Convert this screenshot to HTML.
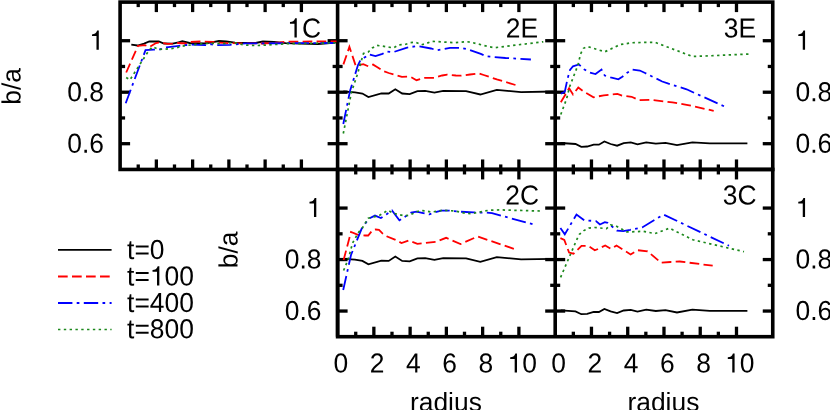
<!DOCTYPE html>
<html><head><meta charset="utf-8"><title>b/a vs radius</title>
<style>
html,body{margin:0;padding:0;background:#fff;}
body{width:830px;height:410px;overflow:hidden;}
svg{display:block;}
text{font-family:"Liberation Sans",sans-serif;font-size:26.4px;fill:#000;text-rendering:geometricPrecision;}
</style></head>
<body>
<svg width="830" height="410" viewBox="0 0 830 410">
<rect x="0" y="0" width="830" height="410" fill="#fff"/>
<g id="axes" shape-rendering="auto">
<g fill="none" stroke="#000" stroke-width="3.6" stroke-linejoin="miter">
<rect x="120.1" y="2.1" width="652.65" height="167.35"/>
<rect x="337.6" y="169.45" width="435.15" height="167.25"/>
</g>
<line x1="337.60" y1="2.10" x2="337.60" y2="336.70" stroke="#000" stroke-width="3.6" />
<line x1="555.20" y1="2.10" x2="555.20" y2="336.70" stroke="#000" stroke-width="3.6" />
<line x1="138.23" y1="169.45" x2="138.23" y2="164.45" stroke="#000" stroke-width="3.3" />
<line x1="138.23" y1="2.10" x2="138.23" y2="7.10" stroke="#000" stroke-width="3.3" />
<line x1="156.36" y1="169.45" x2="156.36" y2="159.45" stroke="#000" stroke-width="3.3" />
<line x1="156.36" y1="2.10" x2="156.36" y2="12.10" stroke="#000" stroke-width="3.3" />
<line x1="174.49" y1="169.45" x2="174.49" y2="164.45" stroke="#000" stroke-width="3.3" />
<line x1="174.49" y1="2.10" x2="174.49" y2="7.10" stroke="#000" stroke-width="3.3" />
<line x1="192.62" y1="169.45" x2="192.62" y2="159.45" stroke="#000" stroke-width="3.3" />
<line x1="192.62" y1="2.10" x2="192.62" y2="12.10" stroke="#000" stroke-width="3.3" />
<line x1="210.75" y1="169.45" x2="210.75" y2="164.45" stroke="#000" stroke-width="3.3" />
<line x1="210.75" y1="2.10" x2="210.75" y2="7.10" stroke="#000" stroke-width="3.3" />
<line x1="228.88" y1="169.45" x2="228.88" y2="159.45" stroke="#000" stroke-width="3.3" />
<line x1="228.88" y1="2.10" x2="228.88" y2="12.10" stroke="#000" stroke-width="3.3" />
<line x1="247.00" y1="169.45" x2="247.00" y2="164.45" stroke="#000" stroke-width="3.3" />
<line x1="247.00" y1="2.10" x2="247.00" y2="7.10" stroke="#000" stroke-width="3.3" />
<line x1="265.13" y1="169.45" x2="265.13" y2="159.45" stroke="#000" stroke-width="3.3" />
<line x1="265.13" y1="2.10" x2="265.13" y2="12.10" stroke="#000" stroke-width="3.3" />
<line x1="283.26" y1="169.45" x2="283.26" y2="164.45" stroke="#000" stroke-width="3.3" />
<line x1="283.26" y1="2.10" x2="283.26" y2="7.10" stroke="#000" stroke-width="3.3" />
<line x1="301.39" y1="169.45" x2="301.39" y2="159.45" stroke="#000" stroke-width="3.3" />
<line x1="301.39" y1="2.10" x2="301.39" y2="12.10" stroke="#000" stroke-width="3.3" />
<line x1="120.10" y1="143.70" x2="130.10" y2="143.70" stroke="#000" stroke-width="3.3" />
<line x1="337.60" y1="143.70" x2="327.60" y2="143.70" stroke="#000" stroke-width="3.3" />
<line x1="120.10" y1="117.96" x2="125.10" y2="117.96" stroke="#000" stroke-width="3.3" />
<line x1="337.60" y1="117.96" x2="332.60" y2="117.96" stroke="#000" stroke-width="3.3" />
<line x1="120.10" y1="92.21" x2="130.10" y2="92.21" stroke="#000" stroke-width="3.3" />
<line x1="337.60" y1="92.21" x2="327.60" y2="92.21" stroke="#000" stroke-width="3.3" />
<line x1="120.10" y1="66.47" x2="125.10" y2="66.47" stroke="#000" stroke-width="3.3" />
<line x1="337.60" y1="66.47" x2="332.60" y2="66.47" stroke="#000" stroke-width="3.3" />
<line x1="120.10" y1="40.72" x2="130.10" y2="40.72" stroke="#000" stroke-width="3.3" />
<line x1="337.60" y1="40.72" x2="327.60" y2="40.72" stroke="#000" stroke-width="3.3" />
<line x1="355.73" y1="169.45" x2="355.73" y2="164.45" stroke="#000" stroke-width="3.3" />
<line x1="355.73" y1="2.10" x2="355.73" y2="7.10" stroke="#000" stroke-width="3.3" />
<line x1="373.86" y1="169.45" x2="373.86" y2="159.45" stroke="#000" stroke-width="3.3" />
<line x1="373.86" y1="2.10" x2="373.86" y2="12.10" stroke="#000" stroke-width="3.3" />
<line x1="391.99" y1="169.45" x2="391.99" y2="164.45" stroke="#000" stroke-width="3.3" />
<line x1="391.99" y1="2.10" x2="391.99" y2="7.10" stroke="#000" stroke-width="3.3" />
<line x1="410.12" y1="169.45" x2="410.12" y2="159.45" stroke="#000" stroke-width="3.3" />
<line x1="410.12" y1="2.10" x2="410.12" y2="12.10" stroke="#000" stroke-width="3.3" />
<line x1="428.25" y1="169.45" x2="428.25" y2="164.45" stroke="#000" stroke-width="3.3" />
<line x1="428.25" y1="2.10" x2="428.25" y2="7.10" stroke="#000" stroke-width="3.3" />
<line x1="446.38" y1="169.45" x2="446.38" y2="159.45" stroke="#000" stroke-width="3.3" />
<line x1="446.38" y1="2.10" x2="446.38" y2="12.10" stroke="#000" stroke-width="3.3" />
<line x1="464.50" y1="169.45" x2="464.50" y2="164.45" stroke="#000" stroke-width="3.3" />
<line x1="464.50" y1="2.10" x2="464.50" y2="7.10" stroke="#000" stroke-width="3.3" />
<line x1="482.63" y1="169.45" x2="482.63" y2="159.45" stroke="#000" stroke-width="3.3" />
<line x1="482.63" y1="2.10" x2="482.63" y2="12.10" stroke="#000" stroke-width="3.3" />
<line x1="500.76" y1="169.45" x2="500.76" y2="164.45" stroke="#000" stroke-width="3.3" />
<line x1="500.76" y1="2.10" x2="500.76" y2="7.10" stroke="#000" stroke-width="3.3" />
<line x1="518.89" y1="169.45" x2="518.89" y2="159.45" stroke="#000" stroke-width="3.3" />
<line x1="518.89" y1="2.10" x2="518.89" y2="12.10" stroke="#000" stroke-width="3.3" />
<line x1="337.60" y1="143.70" x2="347.60" y2="143.70" stroke="#000" stroke-width="3.3" />
<line x1="555.20" y1="143.70" x2="545.20" y2="143.70" stroke="#000" stroke-width="3.3" />
<line x1="337.60" y1="117.96" x2="342.60" y2="117.96" stroke="#000" stroke-width="3.3" />
<line x1="555.20" y1="117.96" x2="550.20" y2="117.96" stroke="#000" stroke-width="3.3" />
<line x1="337.60" y1="92.21" x2="347.60" y2="92.21" stroke="#000" stroke-width="3.3" />
<line x1="555.20" y1="92.21" x2="545.20" y2="92.21" stroke="#000" stroke-width="3.3" />
<line x1="337.60" y1="66.47" x2="342.60" y2="66.47" stroke="#000" stroke-width="3.3" />
<line x1="555.20" y1="66.47" x2="550.20" y2="66.47" stroke="#000" stroke-width="3.3" />
<line x1="337.60" y1="40.72" x2="347.60" y2="40.72" stroke="#000" stroke-width="3.3" />
<line x1="555.20" y1="40.72" x2="545.20" y2="40.72" stroke="#000" stroke-width="3.3" />
<line x1="573.33" y1="169.45" x2="573.33" y2="164.45" stroke="#000" stroke-width="3.3" />
<line x1="573.33" y1="2.10" x2="573.33" y2="7.10" stroke="#000" stroke-width="3.3" />
<line x1="591.46" y1="169.45" x2="591.46" y2="159.45" stroke="#000" stroke-width="3.3" />
<line x1="591.46" y1="2.10" x2="591.46" y2="12.10" stroke="#000" stroke-width="3.3" />
<line x1="609.59" y1="169.45" x2="609.59" y2="164.45" stroke="#000" stroke-width="3.3" />
<line x1="609.59" y1="2.10" x2="609.59" y2="7.10" stroke="#000" stroke-width="3.3" />
<line x1="627.72" y1="169.45" x2="627.72" y2="159.45" stroke="#000" stroke-width="3.3" />
<line x1="627.72" y1="2.10" x2="627.72" y2="12.10" stroke="#000" stroke-width="3.3" />
<line x1="645.85" y1="169.45" x2="645.85" y2="164.45" stroke="#000" stroke-width="3.3" />
<line x1="645.85" y1="2.10" x2="645.85" y2="7.10" stroke="#000" stroke-width="3.3" />
<line x1="663.98" y1="169.45" x2="663.98" y2="159.45" stroke="#000" stroke-width="3.3" />
<line x1="663.98" y1="2.10" x2="663.98" y2="12.10" stroke="#000" stroke-width="3.3" />
<line x1="682.10" y1="169.45" x2="682.10" y2="164.45" stroke="#000" stroke-width="3.3" />
<line x1="682.10" y1="2.10" x2="682.10" y2="7.10" stroke="#000" stroke-width="3.3" />
<line x1="700.23" y1="169.45" x2="700.23" y2="159.45" stroke="#000" stroke-width="3.3" />
<line x1="700.23" y1="2.10" x2="700.23" y2="12.10" stroke="#000" stroke-width="3.3" />
<line x1="718.36" y1="169.45" x2="718.36" y2="164.45" stroke="#000" stroke-width="3.3" />
<line x1="718.36" y1="2.10" x2="718.36" y2="7.10" stroke="#000" stroke-width="3.3" />
<line x1="736.49" y1="169.45" x2="736.49" y2="159.45" stroke="#000" stroke-width="3.3" />
<line x1="736.49" y1="2.10" x2="736.49" y2="12.10" stroke="#000" stroke-width="3.3" />
<line x1="555.20" y1="143.70" x2="565.20" y2="143.70" stroke="#000" stroke-width="3.3" />
<line x1="772.75" y1="143.70" x2="762.75" y2="143.70" stroke="#000" stroke-width="3.3" />
<line x1="555.20" y1="117.96" x2="560.20" y2="117.96" stroke="#000" stroke-width="3.3" />
<line x1="772.75" y1="117.96" x2="767.75" y2="117.96" stroke="#000" stroke-width="3.3" />
<line x1="555.20" y1="92.21" x2="565.20" y2="92.21" stroke="#000" stroke-width="3.3" />
<line x1="772.75" y1="92.21" x2="762.75" y2="92.21" stroke="#000" stroke-width="3.3" />
<line x1="555.20" y1="66.47" x2="560.20" y2="66.47" stroke="#000" stroke-width="3.3" />
<line x1="772.75" y1="66.47" x2="767.75" y2="66.47" stroke="#000" stroke-width="3.3" />
<line x1="555.20" y1="40.72" x2="565.20" y2="40.72" stroke="#000" stroke-width="3.3" />
<line x1="772.75" y1="40.72" x2="762.75" y2="40.72" stroke="#000" stroke-width="3.3" />
<line x1="355.73" y1="336.70" x2="355.73" y2="331.70" stroke="#000" stroke-width="3.3" />
<line x1="355.73" y1="169.45" x2="355.73" y2="174.45" stroke="#000" stroke-width="3.3" />
<line x1="373.86" y1="336.70" x2="373.86" y2="326.70" stroke="#000" stroke-width="3.3" />
<line x1="373.86" y1="169.45" x2="373.86" y2="179.45" stroke="#000" stroke-width="3.3" />
<line x1="391.99" y1="336.70" x2="391.99" y2="331.70" stroke="#000" stroke-width="3.3" />
<line x1="391.99" y1="169.45" x2="391.99" y2="174.45" stroke="#000" stroke-width="3.3" />
<line x1="410.12" y1="336.70" x2="410.12" y2="326.70" stroke="#000" stroke-width="3.3" />
<line x1="410.12" y1="169.45" x2="410.12" y2="179.45" stroke="#000" stroke-width="3.3" />
<line x1="428.25" y1="336.70" x2="428.25" y2="331.70" stroke="#000" stroke-width="3.3" />
<line x1="428.25" y1="169.45" x2="428.25" y2="174.45" stroke="#000" stroke-width="3.3" />
<line x1="446.38" y1="336.70" x2="446.38" y2="326.70" stroke="#000" stroke-width="3.3" />
<line x1="446.38" y1="169.45" x2="446.38" y2="179.45" stroke="#000" stroke-width="3.3" />
<line x1="464.50" y1="336.70" x2="464.50" y2="331.70" stroke="#000" stroke-width="3.3" />
<line x1="464.50" y1="169.45" x2="464.50" y2="174.45" stroke="#000" stroke-width="3.3" />
<line x1="482.63" y1="336.70" x2="482.63" y2="326.70" stroke="#000" stroke-width="3.3" />
<line x1="482.63" y1="169.45" x2="482.63" y2="179.45" stroke="#000" stroke-width="3.3" />
<line x1="500.76" y1="336.70" x2="500.76" y2="331.70" stroke="#000" stroke-width="3.3" />
<line x1="500.76" y1="169.45" x2="500.76" y2="174.45" stroke="#000" stroke-width="3.3" />
<line x1="518.89" y1="336.70" x2="518.89" y2="326.70" stroke="#000" stroke-width="3.3" />
<line x1="518.89" y1="169.45" x2="518.89" y2="179.45" stroke="#000" stroke-width="3.3" />
<line x1="337.60" y1="311.05" x2="347.60" y2="311.05" stroke="#000" stroke-width="3.3" />
<line x1="555.20" y1="311.05" x2="545.20" y2="311.05" stroke="#000" stroke-width="3.3" />
<line x1="337.60" y1="285.31" x2="342.60" y2="285.31" stroke="#000" stroke-width="3.3" />
<line x1="555.20" y1="285.31" x2="550.20" y2="285.31" stroke="#000" stroke-width="3.3" />
<line x1="337.60" y1="259.56" x2="347.60" y2="259.56" stroke="#000" stroke-width="3.3" />
<line x1="555.20" y1="259.56" x2="545.20" y2="259.56" stroke="#000" stroke-width="3.3" />
<line x1="337.60" y1="233.82" x2="342.60" y2="233.82" stroke="#000" stroke-width="3.3" />
<line x1="555.20" y1="233.82" x2="550.20" y2="233.82" stroke="#000" stroke-width="3.3" />
<line x1="337.60" y1="208.07" x2="347.60" y2="208.07" stroke="#000" stroke-width="3.3" />
<line x1="555.20" y1="208.07" x2="545.20" y2="208.07" stroke="#000" stroke-width="3.3" />
<line x1="573.33" y1="336.70" x2="573.33" y2="331.70" stroke="#000" stroke-width="3.3" />
<line x1="573.33" y1="169.45" x2="573.33" y2="174.45" stroke="#000" stroke-width="3.3" />
<line x1="591.46" y1="336.70" x2="591.46" y2="326.70" stroke="#000" stroke-width="3.3" />
<line x1="591.46" y1="169.45" x2="591.46" y2="179.45" stroke="#000" stroke-width="3.3" />
<line x1="609.59" y1="336.70" x2="609.59" y2="331.70" stroke="#000" stroke-width="3.3" />
<line x1="609.59" y1="169.45" x2="609.59" y2="174.45" stroke="#000" stroke-width="3.3" />
<line x1="627.72" y1="336.70" x2="627.72" y2="326.70" stroke="#000" stroke-width="3.3" />
<line x1="627.72" y1="169.45" x2="627.72" y2="179.45" stroke="#000" stroke-width="3.3" />
<line x1="645.85" y1="336.70" x2="645.85" y2="331.70" stroke="#000" stroke-width="3.3" />
<line x1="645.85" y1="169.45" x2="645.85" y2="174.45" stroke="#000" stroke-width="3.3" />
<line x1="663.98" y1="336.70" x2="663.98" y2="326.70" stroke="#000" stroke-width="3.3" />
<line x1="663.98" y1="169.45" x2="663.98" y2="179.45" stroke="#000" stroke-width="3.3" />
<line x1="682.10" y1="336.70" x2="682.10" y2="331.70" stroke="#000" stroke-width="3.3" />
<line x1="682.10" y1="169.45" x2="682.10" y2="174.45" stroke="#000" stroke-width="3.3" />
<line x1="700.23" y1="336.70" x2="700.23" y2="326.70" stroke="#000" stroke-width="3.3" />
<line x1="700.23" y1="169.45" x2="700.23" y2="179.45" stroke="#000" stroke-width="3.3" />
<line x1="718.36" y1="336.70" x2="718.36" y2="331.70" stroke="#000" stroke-width="3.3" />
<line x1="718.36" y1="169.45" x2="718.36" y2="174.45" stroke="#000" stroke-width="3.3" />
<line x1="736.49" y1="336.70" x2="736.49" y2="326.70" stroke="#000" stroke-width="3.3" />
<line x1="736.49" y1="169.45" x2="736.49" y2="179.45" stroke="#000" stroke-width="3.3" />
<line x1="555.20" y1="311.05" x2="565.20" y2="311.05" stroke="#000" stroke-width="3.3" />
<line x1="772.75" y1="311.05" x2="762.75" y2="311.05" stroke="#000" stroke-width="3.3" />
<line x1="555.20" y1="285.31" x2="560.20" y2="285.31" stroke="#000" stroke-width="3.3" />
<line x1="772.75" y1="285.31" x2="767.75" y2="285.31" stroke="#000" stroke-width="3.3" />
<line x1="555.20" y1="259.56" x2="565.20" y2="259.56" stroke="#000" stroke-width="3.3" />
<line x1="772.75" y1="259.56" x2="762.75" y2="259.56" stroke="#000" stroke-width="3.3" />
<line x1="555.20" y1="233.82" x2="560.20" y2="233.82" stroke="#000" stroke-width="3.3" />
<line x1="772.75" y1="233.82" x2="767.75" y2="233.82" stroke="#000" stroke-width="3.3" />
<line x1="555.20" y1="208.07" x2="565.20" y2="208.07" stroke="#000" stroke-width="3.3" />
<line x1="772.75" y1="208.07" x2="762.75" y2="208.07" stroke="#000" stroke-width="3.3" />
</g>
<g id="curves">
<polyline points="131.3,44.7 137.6,45.5 144.1,43.7 149.3,41.5 158.8,41.5 163.9,43.5 172.7,43.7 178.5,42.3 182.3,41.3 189.6,43.0 204.3,43.5 211.6,42.3 218.9,41.0 226.2,41.5 235.0,42.6 241.0,43.0 255.6,43.0 262.9,41.5 273.9,41.9 285.6,43.2 300.0,43.6 318.0,44.0 330.0,43.0 336.5,42.0" fill="none" stroke="#000" stroke-width="1.8" stroke-linejoin="miter" stroke-miterlimit="10"/>
<polyline points="126.2,72.5 138.0,45.8 145.0,45.2 149.5,47.0 156.0,43.0 158.5,42.6 163.0,43.0 167.5,43.9 172.0,43.7 178.0,43.0 186.0,43.5 190.0,41.8 200.0,41.5 213.0,41.9 218.0,42.6 228.0,43.1 240.0,43.3 263.0,43.5 280.0,42.5 288.0,41.6 336.5,41.4" fill="none" stroke="#ff0000" stroke-width="1.8" stroke-dasharray="9.7 4.3" stroke-linejoin="miter" stroke-miterlimit="10"/>
<polyline points="125.7,103.2 145.5,50.2 153.6,49.7 160.0,49.4 165.7,47.4 179.3,45.8 185.0,45.2 191.0,44.7 205.0,45.2 210.5,44.2 216.3,45.2 230.0,44.8 245.0,43.4 336.5,43.0" fill="none" stroke="#0000ff" stroke-width="1.8" stroke-dasharray="14.4 4.3 2.7 4.4" stroke-linejoin="miter" stroke-miterlimit="10"/>
<polyline points="126.2,77.5 129.9,79.9 146.0,54.9 149.3,50.0 152.8,46.8 158.5,49.3 164.0,49.2 170.1,48.8 176.0,47.9 181.2,46.3 187.1,45.4 192.9,44.8 198.8,44.2 204.3,43.5 216.0,43.4 221.8,43.7 227.7,43.1 232.9,42.6 238.8,43.7 244.6,45.0 256.3,45.6 267.7,45.0 279.4,44.2 285.2,43.7 300.0,43.6 336.5,42.8" fill="none" stroke="#1c881c" stroke-width="1.7" stroke-dasharray="2.4 3.41" stroke-linejoin="miter" stroke-miterlimit="10"/>
<polyline points="343.3,91.5 355.0,92.3 362.4,93.5 368.4,97.0 381.4,93.3 388.7,93.5 395.3,89.2 402.2,93.5 409.7,94.1 417.4,91.1 425.2,90.9 434.4,92.6 443.2,90.9 466.1,91.1 480.3,94.5 496.8,89.9 521.1,92.1 553.5,91.5" fill="none" stroke="#000" stroke-width="1.8" stroke-linejoin="miter" stroke-miterlimit="10"/>
<polyline points="343.4,64.4 349.4,46.9 355.8,66.0 363.3,64.1 368.2,66.3 373.1,64.6 377.0,66.9 383.8,71.3 388.7,73.0 401.9,76.9 407.2,76.7 411.1,77.2 416.5,80.2 424.7,77.9 434.0,77.9 442.2,75.5 447.1,74.6 455.9,75.5 461.3,75.7 470.0,74.5 478.8,73.3 483.7,75.0 496.8,79.4 515.5,85.0" fill="none" stroke="#ff0000" stroke-width="1.8" stroke-dasharray="9.7 4.3" stroke-linejoin="miter" stroke-miterlimit="10"/>
<polyline points="343.3,124.0 350.0,91.0 358.0,65.0 360.0,61.0 364.1,57.8 369.2,54.4 375.5,56.1 382.4,53.9 387.2,51.5 393.1,52.2 406.3,47.8 412.0,46.8 418.3,46.1 431.0,48.5 437.2,50.3 443.2,49.2 450.0,47.8 456.4,47.9 462.2,48.0 468.1,49.5 480.8,53.9 486.1,56.3 491.9,56.8 505.5,58.0 530.9,59.5" fill="none" stroke="#0000ff" stroke-width="1.8" stroke-dasharray="14.4 4.3 2.7 4.4" stroke-linejoin="miter" stroke-miterlimit="10"/>
<polyline points="343.3,133.5 351.5,92.0 357.0,75.5 363.5,53.5 368.2,52.0 372.3,48.0 376.8,45.4 382.4,46.1 393.6,47.9 399.0,44.8 404.8,44.6 410.4,42.7 415.6,42.2 421.5,44.8 426.4,43.5 431.5,41.3 455.0,42.7 466.4,41.6 472.2,42.5 489.3,46.8 494.5,47.7 543.3,41.8" fill="none" stroke="#1c881c" stroke-width="1.7" stroke-dasharray="2.4 3.41" stroke-linejoin="miter" stroke-miterlimit="10"/>
<polyline points="560.8,143.0 575.5,144.0 581.3,146.9 587.2,146.5 593.7,144.7 598.9,144.7 604.4,141.5 610.6,144.0 617.1,145.7 623.7,143.2 630.8,142.4 637.5,144.3 646.2,142.3 655.8,143.7 665.5,142.9 677.0,145.2 692.4,142.3 709.8,143.4 747.4,143.4" fill="none" stroke="#000" stroke-width="1.8" stroke-linejoin="miter" stroke-miterlimit="10"/>
<polyline points="560.8,102.3 569.1,88.3 573.0,94.5 578.3,87.5 583.3,91.2 593.5,97.3 603.8,95.3 617.4,93.9 622.0,95.7 631.6,96.8 639.3,100.2 650.0,99.8 672.4,102.4 686.6,104.8 713.7,110.8" fill="none" stroke="#ff0000" stroke-width="1.8" stroke-dasharray="9.7 4.3" stroke-linejoin="miter" stroke-miterlimit="10"/>
<polyline points="560.9,93.7 564.8,91.7 567.5,79.0 570.0,70.0 573.0,66.3 578.9,64.4 584.1,69.3 588.7,72.2 595.5,74.0 601.5,69.5 604.8,75.6 610.6,77.4 618.4,79.3 622.3,76.8 627.2,72.7 632.4,69.5 639.8,70.5 645.1,73.0 662.2,81.5 668.5,83.7 686.6,89.3 692.4,92.0 727.5,107.8" fill="none" stroke="#0000ff" stroke-width="1.8" stroke-dasharray="14.4 4.3 2.7 4.4" stroke-linejoin="miter" stroke-miterlimit="10"/>
<polyline points="560.8,114.5 566.7,98.5 569.6,86.8 578.0,64.9 580.6,53.9 583.5,48.3 587.7,46.6 604.8,51.8 620.0,44.6 631.6,42.8 643.2,42.4 655.5,42.5 692.5,56.5 710.0,55.8 751.7,53.9" fill="none" stroke="#1c881c" stroke-width="1.7" stroke-dasharray="2.4 3.41" stroke-linejoin="miter" stroke-miterlimit="10"/>
<polyline points="343.3,258.9 355.0,259.6 362.4,260.9 368.4,264.4 381.4,260.6 388.7,260.9 395.3,256.6 402.2,260.9 409.7,261.4 417.4,258.4 425.2,258.2 434.4,259.9 443.2,258.2 466.1,258.4 480.3,261.9 496.8,257.2 521.1,259.4 553.5,258.9" fill="none" stroke="#000" stroke-width="1.8" stroke-linejoin="miter" stroke-miterlimit="10"/>
<polyline points="343.6,260.0 351.0,232.0 358.0,234.8 365.3,235.5 368.2,235.5 372.5,230.3 375.5,229.5 379.0,229.9 382.9,233.8 387.2,236.5 395.5,239.8 401.5,243.0 408.7,240.4 417.4,243.8 435.9,241.8 446.1,237.8 460.5,244.1 477.5,236.5 514.5,249.0" fill="none" stroke="#ff0000" stroke-width="1.8" stroke-dasharray="9.7 4.3" stroke-linejoin="miter" stroke-miterlimit="10"/>
<polyline points="343.2,290.0 351.0,255.0 361.4,229.3 368.7,218.7 375.0,215.6 380.9,218.0 386.3,214.4 392.0,210.5 399.4,220.4 411.1,212.6 416.5,211.7 423.2,213.1 429.4,214.4 435.4,212.1 441.3,210.7 449.6,210.7 459.8,211.7 473.5,212.4 486.1,212.6 492.0,213.1 536.3,225.2" fill="none" stroke="#0000ff" stroke-width="1.8" stroke-dasharray="14.4 4.3 2.7 4.4" stroke-linejoin="miter" stroke-miterlimit="10"/>
<polyline points="343.6,270.5 348.2,259.3 352.6,243.0 358.5,232.4 362.3,228.0 368.2,218.3 379.0,215.6 388.0,210.3 393.5,213.3 404.5,215.9 410.0,215.0 416.0,212.0 420.3,210.5 426.1,210.9 431.5,212.1 443.0,210.2 454.7,211.0 466.1,213.4 471.7,213.6 489.1,210.2 500.0,209.9 543.3,211.1" fill="none" stroke="#1c881c" stroke-width="1.7" stroke-dasharray="2.4 3.41" stroke-linejoin="miter" stroke-miterlimit="10"/>
<polyline points="560.8,310.4 575.5,311.4 581.3,314.2 587.2,313.9 593.7,312.0 598.9,312.0 604.4,308.9 610.6,311.4 617.1,313.0 623.7,310.5 630.8,309.8 637.5,311.6 646.2,309.6 655.8,311.0 665.5,310.2 677.0,312.5 692.4,309.6 709.8,310.8 747.4,310.8" fill="none" stroke="#000" stroke-width="1.8" stroke-linejoin="miter" stroke-miterlimit="10"/>
<polyline points="560.4,238.1 564.3,239.9 569.1,252.6 573.5,253.7 581.5,245.9 588.0,245.8 594.8,250.3 598.0,249.0 605.2,245.4 611.0,248.8 616.5,245.6 630.6,254.4 637.5,250.2 647.6,251.3 661.0,262.7 670.5,262.0 679.8,261.5 712.7,265.7" fill="none" stroke="#ff0000" stroke-width="1.8" stroke-dasharray="9.7 4.3" stroke-linejoin="miter" stroke-miterlimit="10"/>
<polyline points="560.4,227.9 564.8,234.3 576.5,214.6 584.3,220.3 596.0,221.1 599.9,224.5 604.8,222.1 607.7,222.9 617.0,230.6 623.3,231.1 630.1,229.9 642.2,227.4 663.5,214.5 729.0,245.8" fill="none" stroke="#0000ff" stroke-width="1.8" stroke-dasharray="14.4 4.3 2.7 4.4" stroke-linejoin="miter" stroke-miterlimit="10"/>
<polyline points="560.6,277.3 577.0,239.1 579.4,234.3 583.8,230.6 588.7,228.1 594.5,227.5 606.5,228.6 610.6,225.0 616.0,226.0 626.7,231.8 632.1,231.8 643.2,231.3 654.9,233.6 669.5,228.2 693.0,239.8 744.0,251.7" fill="none" stroke="#1c881c" stroke-width="1.7" stroke-dasharray="2.4 3.41" stroke-linejoin="miter" stroke-miterlimit="10"/>
<polyline points="58.0,249.85 111.6,249.85" fill="none" stroke="#000" stroke-width="1.8"/>
<polyline points="58.0,276.5 111.6,276.5" fill="none" stroke="#ff0000" stroke-width="1.8" stroke-dasharray="9.7 4.3"/>
<polyline points="58.0,303.0 111.6,303.0" fill="none" stroke="#0000ff" stroke-width="1.8" stroke-dasharray="14.4 4.3 2.7 4.4"/>
<polyline points="58.0,329.5 111.6,329.5" fill="none" stroke="#1c881c" stroke-width="1.7" stroke-dasharray="2.4 3.41"/>
</g>
<g id="labels" opacity="0.999">
<path d="M359 0H271V505H101V568C190 575 267 600 297 709H359Z" transform="translate(89.32,49.7) scale(0.02640,-0.02693)" fill="#000"/>
<path d="M359 0H271V505H101V568C190 575 267 600 297 709H359Z" transform="translate(306.82,217.1) scale(0.02640,-0.02693)" fill="#000"/>
<path d="M359 0H271V505H101V568C190 575 267 600 297 709H359Z" transform="translate(795.60,49.7) scale(0.02640,-0.02693)" fill="#000"/>
<path d="M359 0H271V505H101V568C190 575 267 600 297 709H359Z" transform="translate(795.60,217.1) scale(0.02640,-0.02693)" fill="#000"/>
<text x="0" y="0" text-anchor="end" transform="translate(104.00 101.2) rotate(0.03) scale(1 1.04)">0.8</text>
<text x="0" y="0" text-anchor="end" transform="translate(321.50 268.6) rotate(0.03) scale(1 1.04)">0.8</text>
<text x="0" y="0" text-anchor="start" transform="translate(795.60 101.2) rotate(0.03) scale(1 1.04)">0.8</text>
<text x="0" y="0" text-anchor="start" transform="translate(795.60 268.6) rotate(0.03) scale(1 1.04)">0.8</text>
<text x="0" y="0" text-anchor="end" transform="translate(104.00 152.7) rotate(0.03) scale(1 1.04)">0.6</text>
<text x="0" y="0" text-anchor="end" transform="translate(321.50 320.1) rotate(0.03) scale(1 1.04)">0.6</text>
<text x="0" y="0" text-anchor="start" transform="translate(795.60 152.7) rotate(0.03) scale(1 1.04)">0.6</text>
<text x="0" y="0" text-anchor="start" transform="translate(795.60 320.1) rotate(0.03) scale(1 1.04)">0.6</text>
<text x="0" y="0" text-anchor="middle" transform="translate(340.90 372.5) rotate(0.03) scale(1 1.04)">0</text>
<text x="0" y="0" text-anchor="middle" transform="translate(377.20 372.5) rotate(0.03) scale(1 1.04)">2</text>
<text x="0" y="0" text-anchor="middle" transform="translate(413.40 372.5) rotate(0.03) scale(1 1.04)">4</text>
<text x="0" y="0" text-anchor="middle" transform="translate(449.70 372.5) rotate(0.03) scale(1 1.04)">6</text>
<text x="0" y="0" text-anchor="middle" transform="translate(485.90 372.5) rotate(0.03) scale(1 1.04)">8</text>
<path d="M359 0H271V505H101V568C190 575 267 600 297 709H359Z" transform="translate(507.52,372.5) scale(0.02640,-0.02693)" fill="#000"/>
<text x="0" y="0" transform="translate(522.20 372.5) rotate(0.03) scale(1 1.04)">0</text>
<text x="0" y="0" text-anchor="middle" transform="translate(558.50 372.5) rotate(0.03) scale(1 1.04)">0</text>
<text x="0" y="0" text-anchor="middle" transform="translate(594.80 372.5) rotate(0.03) scale(1 1.04)">2</text>
<text x="0" y="0" text-anchor="middle" transform="translate(631.00 372.5) rotate(0.03) scale(1 1.04)">4</text>
<text x="0" y="0" text-anchor="middle" transform="translate(667.30 372.5) rotate(0.03) scale(1 1.04)">6</text>
<text x="0" y="0" text-anchor="middle" transform="translate(703.50 372.5) rotate(0.03) scale(1 1.04)">8</text>
<path d="M359 0H271V505H101V568C190 575 267 600 297 709H359Z" transform="translate(725.12,372.5) scale(0.02640,-0.02693)" fill="#000"/>
<text x="0" y="0" transform="translate(739.80 372.5) rotate(0.03) scale(1 1.04)">0</text>
<text x="0" y="0" text-anchor="middle" transform="translate(445.90 411.1) rotate(0.03) scale(1 1)">radius</text>
<text x="0" y="0" text-anchor="middle" transform="translate(663.40 411.1) rotate(0.03) scale(1 1)">radius</text>
<path d="M359 0H271V505H101V568C190 575 267 600 297 709H359Z" transform="translate(287.30,37.4) scale(0.02640,-0.02693)" fill="#000"/>
<text x="0" y="0" transform="translate(301.98 37.4) rotate(0.03) scale(1 1.04)">C</text>
<text x="0" y="0" text-anchor="start" transform="translate(505.80 37.4) rotate(0.03) scale(1 1.04)">2E</text>
<text x="0" y="0" text-anchor="start" transform="translate(723.70 37.4) rotate(0.03) scale(1 1.04)">3E</text>
<text x="0" y="0" text-anchor="start" transform="translate(505.20 204.6) rotate(0.03) scale(1 1.04)">2C</text>
<text x="0" y="0" text-anchor="start" transform="translate(722.80 204.6) rotate(0.03) scale(1 1.04)">3C</text>
<text x="0" y="0" text-anchor="middle" transform="translate(20.6,86.4) rotate(-90.03)">b/a</text>
<text x="0" y="0" text-anchor="middle" transform="translate(237.5,249.8) rotate(-90.03)">b/a</text>
<text x="0" y="0" text-anchor="start" transform="translate(127.10 259.1) rotate(0.03) scale(1 1.04)">t=0</text>
<text x="0" y="0" transform="translate(127.10 285.4) rotate(0.03) scale(1 1.04)">t=</text>
<path d="M359 0H271V505H101V568C190 575 267 600 297 709H359Z" transform="translate(149.86,285.4) scale(0.02640,-0.02693)" fill="#000"/>
<text x="0" y="0" transform="translate(164.54 285.4) rotate(0.03) scale(1 1.04)">00</text>
<text x="0" y="0" text-anchor="start" transform="translate(127.10 311.9) rotate(0.03) scale(1 1.04)">t=400</text>
<text x="0" y="0" text-anchor="start" transform="translate(127.10 338.3) rotate(0.03) scale(1 1.04)">t=800</text>
</g>
</svg>
</body></html>
